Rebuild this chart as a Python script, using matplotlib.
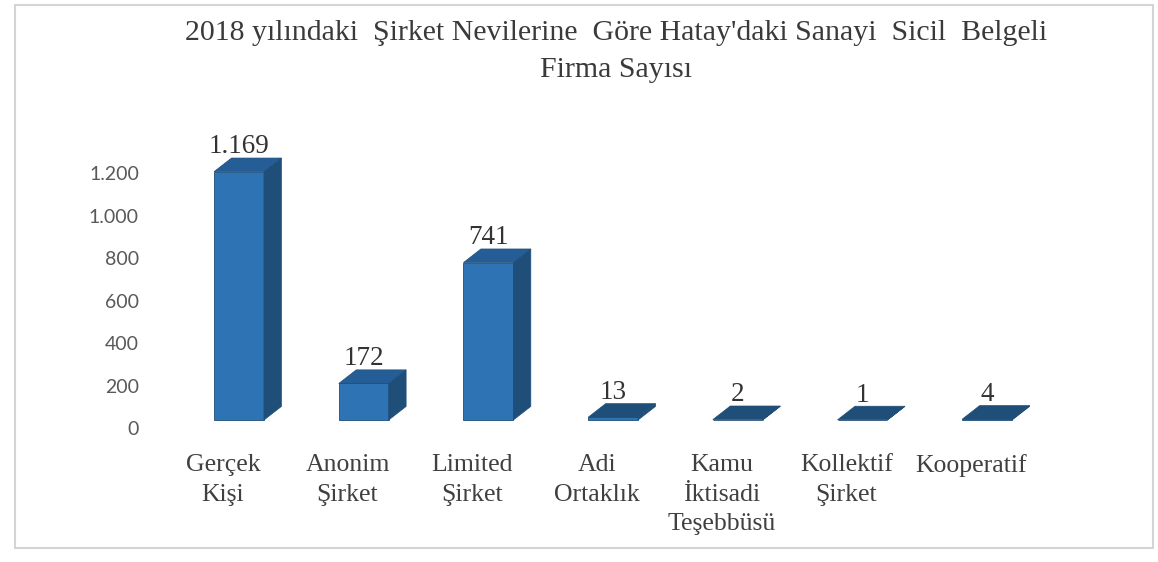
import matplotlib.pyplot as plt
from matplotlib.patches import Polygon, Rectangle

# Data
categories = ["Gerçek\nKişi", "Anonim\nŞirket", "Limited\nŞirket", "Adi\nOrtaklık",
              "Kamu\nİktisadi\nTeşebbüsü", "Kollektif\nŞirket", "Kooperatif"]
values = [1169, 172, 741, 13, 2, 1, 4]
value_labels = ["1.169", "172", "741", "13", "2", "1", "4"]
yticks = [0, 200, 400, 600, 800, 1000, 1200]
ytick_labels = ["0", "200", "400", "600", "800", "1.000", "1.200"]

front = "#2E74B5"
side = "#1F4E79"
top = "#255E96"

fig = plt.figure(figsize=(11.58, 5.62), dpi=100)
fig.patch.set_facecolor("white")

# outer frame
fig.patches.append(Rectangle((15 / 1158, 14 / 562), 1138 / 1158, 543 / 562,
                             transform=fig.transFigure, fill=False,
                             edgecolor="#d4d4d4", linewidth=1.5))

ax = fig.add_axes([150 / 1158, 122 / 562, 910 / 1158, 310 / 562])
ax.set_xlim(-0.714, 6.584)
ax.set_ylim(-94, 1365)

width = 0.4
dx = 0.14
dy = 64

x = list(range(len(values)))
ax.bar(x, values, width=width, color=front, edgecolor=side, linewidth=0.6, zorder=2)

for xi, v in zip(x, values):
    l, r = xi - width / 2, xi + width / 2
    # side face
    ax.add_patch(Polygon([(r, 0), (r + dx, dy), (r + dx, v + dy), (r, v)],
                         closed=True, facecolor=side, edgecolor=side, linewidth=0.5, zorder=2))
    # top face
    ax.add_patch(Polygon([(l, v), (l + dx, v + dy), (r + dx, v + dy), (r, v)],
                         closed=True, facecolor=top if v > 50 else side,
                         edgecolor=side, linewidth=0.5, zorder=3))

for xi, v, lab in zip(x, values, value_labels):
    ax.annotate(lab, (xi, v + dy), xytext=(0, -1), textcoords="offset points",
                ha="center", va="bottom", fontsize=19.5, family="Liberation Serif",
                color="#333333")

# tick labels sit a little below the front base of the 3D bars
label_drop = 38
ax.set_yticks([t - label_drop for t in yticks])
ax.set_yticklabels(ytick_labels, family="Lato", fontsize=14, color="#595959")

ax.set_xticks([xi - 0.13 for xi in x])
ax.set_xticklabels(categories, family="Liberation Serif", fontsize=18.5,
                   color="#404040", linespacing=1.45, va="top")
ax.tick_params(axis="both", length=0)
ax.tick_params(axis="x", pad=10)
ax.tick_params(axis="y", pad=8)

for s in ax.spines.values():
    s.set_visible(False)

fig.text(616 / 1158, 1 - 33 / 562, "2018 yılındaki  Şirket Nevilerine  Göre Hatay'daki Sanayi  Sicil  Belgeli",
         ha="center", va="center", fontsize=21.5, family="Liberation Serif", color="#3a3a3a")
fig.text(616 / 1158, 1 - 70 / 562, "Firma Sayısı",
         ha="center", va="center", fontsize=21.5, family="Liberation Serif", color="#3a3a3a")

fig.savefig("out.png", dpi=100)
